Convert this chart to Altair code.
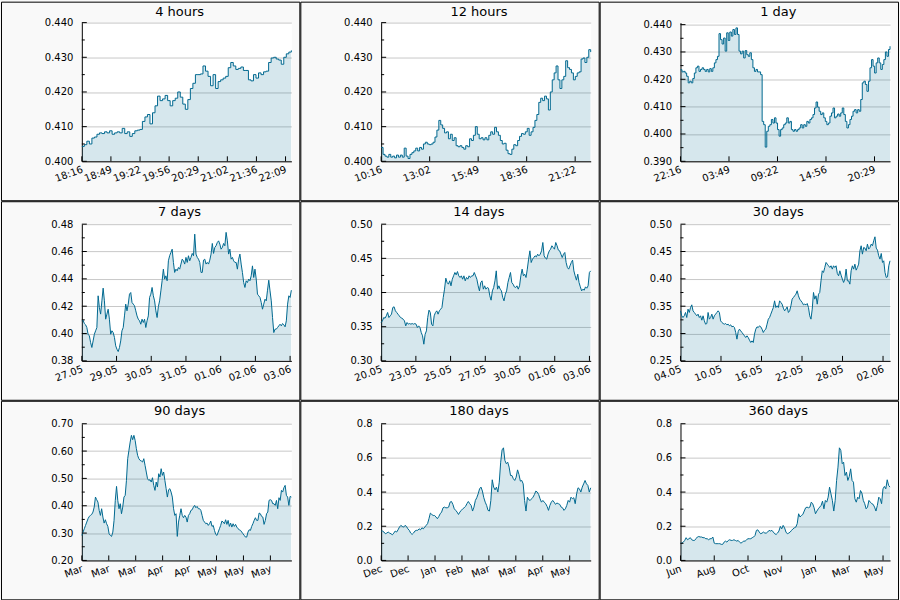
import altair as alt
import pandas as pd

# ---------------------------------------------------------------------------
# Price history, one series per look-back window (all windows end at END)
# ---------------------------------------------------------------------------
END = "2021-06-03 22:16"

TITLES = ["4 hours", "12 hours", "1 day", "7 days", "14 days", "30 days",
          "90 days", "180 days", "360 days"]

STARTS = ["2021-06-03 18:16", "2021-06-03 10:16", "2021-06-02 22:16",
          "2021-05-27 22:16", "2021-05-20 22:16", "2021-05-04 22:16",
          "2021-03-05 22:16", "2020-12-05 22:16", "2020-06-08 22:16"]

s_4h = [0.4043, 0.4048, 0.4058, 0.4050, 0.4067, 0.4070, 0.4078, 0.4082, 0.4080, 0.4085,
        0.4082, 0.4088, 0.4078, 0.4082, 0.4085, 0.4082, 0.4095, 0.4080, 0.4085, 0.4072,
        0.4080, 0.4088, 0.4090, 0.4092, 0.4115, 0.4128, 0.4135, 0.4108, 0.4140, 0.4160,
        0.4188, 0.4175, 0.4180, 0.4190, 0.4175, 0.4160, 0.4175, 0.4182, 0.4200, 0.4185,
        0.4165, 0.4150, 0.4178, 0.4210, 0.4225, 0.4250, 0.4250, 0.4252, 0.4275, 0.4260,
        0.4245, 0.4218, 0.4250, 0.4210, 0.4230, 0.4235, 0.4240, 0.4245, 0.4270, 0.4285,
        0.4275, 0.4265, 0.4268, 0.4272, 0.4262, 0.4262, 0.4235, 0.4232, 0.4250, 0.4240,
        0.4255, 0.4250, 0.4258, 0.4260, 0.4285, 0.4298, 0.4300, 0.4295, 0.4292, 0.4280,
        0.4300, 0.4310, 0.4315, 0.4320]

s_12h = [0.4040, 0.4020, 0.4015, 0.4012, 0.4020, 0.4012, 0.4015, 0.4010, 0.4018, 0.4012,
         0.4018, 0.4012, 0.4038, 0.4015, 0.4008, 0.4020, 0.4025, 0.4030, 0.4038, 0.4030,
         0.4040, 0.4035, 0.4050, 0.4055, 0.4050, 0.4048, 0.4050, 0.4055, 0.4070, 0.4090,
         0.4118, 0.4105, 0.4095, 0.4082, 0.4085, 0.4065, 0.4078, 0.4060, 0.4068, 0.4045,
         0.4042, 0.4045, 0.4040, 0.4035, 0.4045, 0.4042, 0.4065, 0.4060, 0.4075, 0.4100,
         0.4078, 0.4065, 0.4068, 0.4062, 0.4068, 0.4062, 0.4075, 0.4085, 0.4078, 0.4098,
         0.4085, 0.4075, 0.4060, 0.4050, 0.4052, 0.4032, 0.4022, 0.4020, 0.4035, 0.4048,
         0.4045, 0.4060, 0.4072, 0.4080, 0.4078, 0.4085, 0.4095, 0.4075, 0.4085, 0.4098,
         0.4118, 0.4135, 0.4170, 0.4182, 0.4175, 0.4188, 0.4180, 0.4148, 0.4200, 0.4235,
         0.4255, 0.4275, 0.4235, 0.4210, 0.4235, 0.4245, 0.4290, 0.4270, 0.4265, 0.4255,
         0.4235, 0.4245, 0.4255, 0.4258, 0.4295, 0.4298, 0.4285, 0.4300, 0.4322, 0.4315]

s_1d = [0.4235, 0.4227, 0.4229, 0.4223, 0.4211, 0.4187, 0.4193, 0.4187, 0.4203, 0.4223,
        0.4242, 0.4248, 0.4229, 0.4236, 0.4242, 0.4236, 0.4229, 0.4236, 0.4227, 0.4239,
        0.4229, 0.4242, 0.4260, 0.4272, 0.4284, 0.4367, 0.4345, 0.4329, 0.4351, 0.4303,
        0.4370, 0.4342, 0.4373, 0.4358, 0.4382, 0.4364, 0.4388, 0.4364, 0.4303, 0.4293,
        0.4303, 0.4278, 0.4305, 0.4290, 0.4284, 0.4297, 0.4272, 0.4242, 0.4229, 0.4236,
        0.4227, 0.4227, 0.4217, 0.4046, 0.4034, 0.3952, 0.4010, 0.4028, 0.4034, 0.4053,
        0.4040, 0.4059, 0.4040, 0.4016, 0.3992, 0.4016, 0.4022, 0.4034, 0.4040, 0.4059,
        0.4040, 0.4046, 0.4016, 0.4010, 0.4016, 0.4010, 0.4016, 0.4022, 0.4034, 0.4022,
        0.4034, 0.4028, 0.4046, 0.4040, 0.4053, 0.4059, 0.4071, 0.4095, 0.4117, 0.4098,
        0.4083, 0.4071, 0.4077, 0.4059, 0.4046, 0.4034, 0.4040, 0.4065, 0.4077, 0.4095,
        0.4059, 0.4065, 0.4073, 0.4065, 0.4077, 0.4095, 0.4071, 0.4046, 0.4022, 0.4034,
        0.4053, 0.4065, 0.4083, 0.4089, 0.4077, 0.4089, 0.4083, 0.4126, 0.4187, 0.4193,
        0.4181, 0.4156, 0.4193, 0.4242, 0.4272, 0.4248, 0.4223, 0.4260, 0.4278, 0.4260,
        0.4236, 0.4254, 0.4272, 0.4300, 0.4284, 0.4309, 0.4321]

s_7d = [0.4093, 0.4098, 0.4073, 0.4064, 0.4044, 0.3995, 0.3983, 0.3934, 0.3898, 0.3946,
        0.3995, 0.4020, 0.4044, 0.4276, 0.4190, 0.4142, 0.4239, 0.4332, 0.4239, 0.4105,
        0.4142, 0.4178, 0.4105, 0.3995, 0.4020, 0.4007, 0.3971, 0.3910, 0.3885, 0.3868,
        0.3898, 0.3946, 0.4020, 0.4044, 0.4129, 0.4215, 0.4166, 0.4215, 0.4288, 0.4300,
        0.4227, 0.4215, 0.4203, 0.4166, 0.4129, 0.4105, 0.4093, 0.4068, 0.4105, 0.4081,
        0.4105, 0.4044, 0.4093, 0.4129, 0.4264, 0.4288, 0.4337, 0.4276, 0.4239, 0.4166,
        0.4117, 0.4196, 0.4239, 0.4312, 0.4386, 0.4471, 0.4398, 0.4422, 0.4386, 0.4532,
        0.4569, 0.4593, 0.4617, 0.4520, 0.4447, 0.4471, 0.4459, 0.4483, 0.4471, 0.4508,
        0.4544, 0.4532, 0.4508, 0.4557, 0.4520, 0.4569, 0.4532, 0.4557, 0.4586, 0.4569,
        0.4727, 0.4581, 0.4557, 0.4544, 0.4520, 0.4447, 0.4447, 0.4537, 0.4544, 0.4508,
        0.4520, 0.4508, 0.4537, 0.4581, 0.4659, 0.4586, 0.4630, 0.4642, 0.4666, 0.4678,
        0.4654, 0.4617, 0.4630, 0.4659, 0.4642, 0.4740, 0.4678, 0.4581, 0.4617, 0.4544,
        0.4557, 0.4532, 0.4520, 0.4520, 0.4471, 0.4544, 0.4581, 0.4508, 0.4447, 0.4373,
        0.4337, 0.4386, 0.4373, 0.4398, 0.4386, 0.4422, 0.4495, 0.4410, 0.4471, 0.4398,
        0.4288, 0.4276, 0.4264, 0.4227, 0.4178, 0.4215, 0.4251, 0.4239, 0.4317, 0.4390,
        0.4312, 0.4239, 0.4117, 0.4007, 0.4032, 0.4032, 0.4044, 0.4056, 0.4068, 0.4056,
        0.4073, 0.4064, 0.4049, 0.4093, 0.4215, 0.4276, 0.4264, 0.4317]

s_14d = [0.3561, 0.3586, 0.3634, 0.3624, 0.3659, 0.3708, 0.3634, 0.3659, 0.3683, 0.3781,
         0.3791, 0.3732, 0.3708, 0.3683, 0.3659, 0.3634, 0.3624, 0.3610, 0.3586, 0.3512,
         0.3561, 0.3537, 0.3546, 0.3537, 0.3546, 0.3537, 0.3546, 0.3537, 0.3488, 0.3512,
         0.3488, 0.3415, 0.3366, 0.3244, 0.3390, 0.3439, 0.3634, 0.3742, 0.3708, 0.3537,
         0.3512, 0.3659, 0.3708, 0.3732, 0.3683, 0.3732, 0.3756, 0.3781, 0.3927, 0.4049,
         0.4210, 0.4146, 0.4122, 0.4171, 0.4098, 0.4195, 0.4244, 0.4293, 0.4259, 0.4307,
         0.4244, 0.4220, 0.4244, 0.4195, 0.4244, 0.4171, 0.4220, 0.4195, 0.4244, 0.4220,
         0.4244, 0.4244, 0.4293, 0.4244, 0.4195, 0.4098, 0.4024, 0.4146, 0.4171, 0.4049,
         0.4098, 0.4049, 0.4073, 0.4063, 0.3952, 0.3888, 0.4024, 0.4073, 0.4171, 0.4317,
         0.4049, 0.4098, 0.4049, 0.4024, 0.3927, 0.3878, 0.3976, 0.4024, 0.4146, 0.4220,
         0.4293, 0.4146, 0.4122, 0.4083, 0.4073, 0.4098, 0.4049, 0.4098, 0.4244, 0.4342,
         0.4244, 0.4268, 0.4220, 0.4342, 0.4488, 0.4610, 0.4439, 0.4488, 0.4512, 0.4537,
         0.4522, 0.4561, 0.4537, 0.4561, 0.4610, 0.4732, 0.4537, 0.4503, 0.4488, 0.4561,
         0.4610, 0.4634, 0.4684, 0.4659, 0.4634, 0.4732, 0.4684, 0.4620, 0.4610, 0.4561,
         0.4512, 0.4561, 0.4586, 0.4439, 0.4366, 0.4342, 0.4390, 0.4439, 0.4474, 0.4317,
         0.4244, 0.4181, 0.4268, 0.4146, 0.4083, 0.4024, 0.4049, 0.4034, 0.4083, 0.4063,
         0.4098, 0.4293, 0.4317]

s_30d = [0.3415, 0.3324, 0.3293, 0.3324, 0.3385, 0.3293, 0.3446, 0.3385, 0.3476, 0.3525,
         0.3415, 0.3385, 0.3354, 0.3324, 0.3354, 0.3293, 0.3324, 0.3244, 0.3324, 0.3232,
         0.3171, 0.3183, 0.3385, 0.3263, 0.3293, 0.3354, 0.3263, 0.3324, 0.3354, 0.3385,
         0.3415, 0.3385, 0.3232, 0.3202, 0.3183, 0.3171, 0.3183, 0.3159, 0.3171, 0.3141,
         0.3159, 0.3122, 0.3134, 0.3110, 0.3019, 0.2897, 0.3037, 0.3080, 0.3049, 0.3019,
         0.2988, 0.2958, 0.2927, 0.2958, 0.2927, 0.2878, 0.2836, 0.2866, 0.2836, 0.2988,
         0.3080, 0.3122, 0.3110, 0.3141, 0.3122, 0.3080, 0.3019, 0.3061, 0.3080, 0.3171,
         0.3263, 0.3293, 0.3354, 0.3415, 0.3476, 0.3598, 0.3476, 0.3507, 0.3476, 0.3598,
         0.3568, 0.3537, 0.3464, 0.3415, 0.3446, 0.3488, 0.3385, 0.3415, 0.3507, 0.3629,
         0.3659, 0.3690, 0.3720, 0.3781, 0.3690, 0.3629, 0.3598, 0.3568, 0.3525, 0.3537,
         0.3525, 0.3549, 0.3476, 0.3324, 0.3263, 0.3446, 0.3751, 0.3629, 0.3690, 0.3537,
         0.3720, 0.3751, 0.3964, 0.4147, 0.4117, 0.4208, 0.4300, 0.4269, 0.4239, 0.4208,
         0.4239, 0.4178, 0.4239, 0.4208, 0.4239, 0.4098, 0.4056, 0.4147, 0.4068, 0.3995,
         0.3934, 0.3995, 0.4178, 0.3964, 0.3964, 0.3903, 0.4147, 0.4239, 0.4178, 0.4269,
         0.4159, 0.4208, 0.4269, 0.4513, 0.4605, 0.4452, 0.4574, 0.4562, 0.4513, 0.4635,
         0.4544, 0.4574, 0.4635, 0.4605, 0.4696, 0.4769, 0.4562, 0.4525, 0.4422, 0.4361,
         0.4464, 0.4300, 0.4330, 0.4117, 0.4025, 0.4037, 0.4239, 0.4330]

s_90d = [0.2915, 0.3037, 0.3159, 0.3281, 0.3403, 0.3525, 0.3610, 0.3647, 0.3684, 0.3769,
         0.3952, 0.4318, 0.4220, 0.4135, 0.3830, 0.3647, 0.3891, 0.3586, 0.3366, 0.3488,
         0.3342, 0.3244, 0.2976, 0.2915, 0.2878, 0.3037, 0.3464, 0.4196, 0.4708, 0.4196,
         0.3891, 0.4074, 0.3708, 0.3952, 0.4318, 0.4379, 0.4928, 0.5721, 0.6026, 0.6331,
         0.6575, 0.6416, 0.6575, 0.6392, 0.6087, 0.5843, 0.5721, 0.5660, 0.5636, 0.5599,
         0.5721, 0.5477, 0.5233, 0.4989, 0.4928, 0.4952, 0.4867, 0.5025, 0.4745, 0.4562,
         0.4867, 0.4684, 0.5172, 0.5050, 0.5355, 0.5111, 0.5233, 0.4928, 0.4623, 0.4318,
         0.4586, 0.4623, 0.4501, 0.4318, 0.3891, 0.3647, 0.3708, 0.2878, 0.3403, 0.3647,
         0.3891, 0.3647, 0.3562, 0.3647, 0.3586, 0.3403, 0.3647, 0.3708, 0.3830, 0.3854,
         0.3952, 0.4013, 0.3928, 0.3976, 0.3891, 0.3891, 0.3830, 0.3647, 0.3464, 0.3403,
         0.3342, 0.3366, 0.3281, 0.3342, 0.3440, 0.3244, 0.3281, 0.3098, 0.2952, 0.2915,
         0.3037, 0.3159, 0.3281, 0.3440, 0.3403, 0.3342, 0.3488, 0.3318, 0.3464, 0.3244,
         0.3366, 0.3220, 0.3342, 0.3244, 0.3318, 0.3220, 0.3159, 0.3122, 0.3098, 0.3037,
         0.2976, 0.2915, 0.2854, 0.2854, 0.3037, 0.3122, 0.3098, 0.3244, 0.3342, 0.3464,
         0.3562, 0.3464, 0.3464, 0.3733, 0.3708, 0.3610, 0.3586, 0.3318, 0.3464, 0.3708,
         0.3769, 0.4196, 0.4220, 0.4196, 0.4074, 0.4074, 0.4013, 0.4196, 0.3891, 0.4294,
         0.4196, 0.4562, 0.4501, 0.4660, 0.4745, 0.4379, 0.4318, 0.4013, 0.4342, 0.4318]

s_180d = [0.172, 0.172, 0.166, 0.156, 0.160, 0.166, 0.160, 0.156, 0.150, 0.160,
          0.172, 0.166, 0.179, 0.195, 0.205, 0.199, 0.195, 0.205, 0.199, 0.185,
          0.176, 0.160, 0.152, 0.160, 0.172, 0.176, 0.176, 0.185, 0.179, 0.191,
          0.185, 0.195, 0.205, 0.215, 0.244, 0.277, 0.269, 0.263, 0.263, 0.254,
          0.244, 0.257, 0.273, 0.283, 0.308, 0.312, 0.308, 0.308, 0.312, 0.341,
          0.345, 0.328, 0.302, 0.293, 0.283, 0.269, 0.283, 0.293, 0.302, 0.308,
          0.316, 0.332, 0.345, 0.332, 0.322, 0.289, 0.312, 0.351, 0.367, 0.390,
          0.419, 0.429, 0.406, 0.367, 0.341, 0.322, 0.293, 0.289, 0.351, 0.472,
          0.429, 0.413, 0.429, 0.400, 0.458, 0.575, 0.647, 0.659, 0.585, 0.566,
          0.575, 0.546, 0.497, 0.497, 0.478, 0.468, 0.487, 0.530, 0.503, 0.464,
          0.468, 0.448, 0.351, 0.289, 0.370, 0.355, 0.351, 0.361, 0.370, 0.386,
          0.406, 0.400, 0.386, 0.361, 0.341, 0.351, 0.341, 0.332, 0.316, 0.293,
          0.322, 0.341, 0.351, 0.341, 0.328, 0.336, 0.332, 0.328, 0.312, 0.308,
          0.293, 0.302, 0.322, 0.351, 0.341, 0.370, 0.361, 0.367, 0.332, 0.390,
          0.425, 0.419, 0.400, 0.429, 0.448, 0.468, 0.448, 0.439, 0.400, 0.425]

s_360d = [0.101, 0.101, 0.107, 0.117, 0.133, 0.121, 0.127, 0.133, 0.121, 0.117,
          0.117, 0.127, 0.137, 0.140, 0.137, 0.137, 0.133, 0.133, 0.127, 0.127,
          0.121, 0.127, 0.127, 0.137, 0.101, 0.098, 0.098, 0.098, 0.098, 0.094,
          0.094, 0.107, 0.113, 0.107, 0.117, 0.121, 0.117, 0.117, 0.121, 0.117,
          0.113, 0.117, 0.107, 0.101, 0.107, 0.113, 0.113, 0.121, 0.127, 0.127,
          0.127, 0.133, 0.137, 0.146, 0.176, 0.179, 0.166, 0.156, 0.160, 0.166,
          0.160, 0.160, 0.166, 0.176, 0.172, 0.176, 0.166, 0.156, 0.152, 0.160,
          0.172, 0.199, 0.185, 0.205, 0.191, 0.166, 0.156, 0.160, 0.166, 0.176,
          0.185, 0.191, 0.195, 0.215, 0.273, 0.254, 0.263, 0.269, 0.289, 0.308,
          0.312, 0.308, 0.312, 0.341, 0.332, 0.308, 0.273, 0.289, 0.302, 0.312,
          0.322, 0.347, 0.302, 0.351, 0.341, 0.370, 0.429, 0.390, 0.351, 0.289,
          0.351, 0.468, 0.546, 0.659, 0.644, 0.566, 0.575, 0.497, 0.517, 0.468,
          0.491, 0.536, 0.468, 0.458, 0.361, 0.341, 0.370, 0.361, 0.409, 0.394,
          0.351, 0.332, 0.302, 0.312, 0.351, 0.341, 0.332, 0.328, 0.312, 0.289,
          0.322, 0.370, 0.361, 0.332, 0.419, 0.433, 0.419, 0.472, 0.439, 0.429]

SERIES = [s_4h, s_12h, s_1d, s_7d, s_14d, s_30d, s_90d, s_180d, s_360d]

# value axis: range, major step and label format of each window
Y_DOMAINS = [(0.400, 0.440), (0.400, 0.440), (0.390, 0.440), (0.38, 0.48),
             (0.30, 0.50), (0.25, 0.50), (0.20, 0.70), (0.0, 0.8), (0.0, 0.8)]
Y_STEPS = [0.01, 0.01, 0.01, 0.02, 0.05, 0.05, 0.1, 0.2, 0.2]
Y_FORMATS = [".3f", ".3f", ".3f", ".2f", ".2f", ".2f", ".2f", ".1f", ".1f"]

# time axis: spacing of ticks (minutes) and their labels
TICK_STEP_MIN = [2000 / 60, 10000 / 60, 20000 / 60, 1670, 3340, 8352, 16661, 33322, 83520]
TICK_LABELS = [
    ["18:16", "18:49", "19:22", "19:56", "20:29", "21:02", "21:36", "22:09"],
    ["10:16", "13:02", "15:49", "18:36", "21:22"],
    ["22:16", "03:49", "09:22", "14:56", "20:29"],
    ["27.05", "29.05", "30.05", "31.05", "01.06", "02.06", "03.06"],
    ["20.05", "23.05", "25.05", "27.05", "30.05", "01.06", "03.06"],
    ["04.05", "10.05", "16.05", "22.05", "28.05", "02.06"],
    ["Mar", "Mar", "Mar", "Apr", "Apr", "May", "May", "May"],
    ["Dec", "Dec", "Jan", "Feb", "Mar", "Mar", "Apr", "May"],
    ["Jun", "Aug", "Oct", "Nov", "Jan", "Mar", "May"],
]

# ---------------------------------------------------------------------------
# Styling and panel geometry
# ---------------------------------------------------------------------------
FONT = "DejaVu Sans"
LINE = "#006890"
BG = "#f9f9f9"
GRID = "#c8c8c8"
W = 210                      # plot width of every panel
CELL_W, CELL_H = 300, 200    # framed cell around each panel
LEFT = 81                    # plot left edge inside the cell
ISO = "%Y-%m-%dT%H:%M:%S"

# plot top inside its cell, plot height, and extra headroom above the top tick
PLOT_TOP = [21, 21, 21, 23, 23, 23, 23, 23, 23]
PLOT_H = [139, 139, 139, 137, 137, 137, 137, 137, 137]
HEADROOM = [0, 0, 2, 0, 0, 0, 0, 0, 0]


def dt(s):
    ts = pd.Timestamp(s)
    return alt.DateTime(year=ts.year, month=ts.month, date=ts.day,
                        hours=ts.hour, minutes=ts.minute, seconds=ts.second)


def panel(i):
    h = PLOT_H[i]
    top = PLOT_TOP[i]

    vals = SERIES[i]
    times = pd.date_range(STARTS[i], END, periods=len(vals))
    series = pd.DataFrame({"t": times.strftime(ISO), "v": vals})

    lo, hi = Y_DOMAINS[i]
    step = Y_STEPS[i]
    n = int(round((hi - lo) / step))
    major = [round(lo + k * step, 4) for k in range(n + 1)]
    minor = [round(lo + (k + 0.5) * step, 4) for k in range(n)]
    hi_scale = hi + (hi - lo) * HEADROOM[i] / (h - HEADROOM[i])

    t0 = pd.Timestamp(STARTS[i])
    tick_times = [(t0 + pd.Timedelta(minutes=TICK_STEP_MIN[i] * k)).strftime(ISO)
                  for k in range(len(TICK_LABELS[i]))]
    ticks = pd.DataFrame({"t": tick_times, "label": TICK_LABELS[i]})

    xs = alt.Scale(domain=[dt(STARTS[i]), dt(END)], nice=False)
    ys = alt.Scale(domain=[lo, hi_scale], nice=False, zero=False)

    # identical axis specs on every layer, so the merged axes keep them
    x_axis = alt.Axis(title=None, labels=False, ticks=False, grid=False,
                      domainColor="black", domainWidth=1)
    y_axis = alt.Axis(title=None, values=major, format=Y_FORMATS[i], grid=True,
                      gridColor=GRID, gridWidth=1, ticks=False, tickSize=0,
                      labelPadding=9, domainColor="black", domainWidth=1,
                      labelFont=FONT, labelFontSize=10, labelColor="black")

    def X(field):
        return alt.X(field, scale=xs, axis=x_axis)

    def Y(field):
        return alt.Y(field, scale=ys, axis=y_axis)

    interp = "step-after" if i < 3 else "linear"

    frame = alt.Chart(pd.DataFrame({"k": [0]})).mark_rect(
        filled=False, stroke="black", strokeWidth=1
    ).encode(x=alt.value(0.5 - LEFT), x2=alt.value(CELL_W - 0.5 - LEFT),
             y=alt.value(0.5 - top), y2=alt.value(CELL_H - 0.5 - top))

    area = alt.Chart(series).mark_area(
        color=LINE, fillOpacity=0.16, interpolate=interp, clip=True
    ).encode(x=X("t:T"), y=Y("v:Q"), y2=alt.datum(lo))

    line = alt.Chart(series).mark_line(
        color=LINE, strokeWidth=1, interpolate=interp
    ).encode(x=X("t:T"), y=Y("v:Q"))

    y_major = alt.Chart(pd.DataFrame({"y": major})).mark_rule(
        color="black", strokeWidth=1
    ).encode(y=Y("y:Q"), x=alt.value(0), x2=alt.value(5))

    y_minor = alt.Chart(pd.DataFrame({"y": minor})).mark_rule(
        color="black", strokeWidth=1
    ).encode(y=Y("y:Q"), x=alt.value(0), x2=alt.value(3))

    x_ticks = alt.Chart(ticks).mark_rule(color="black", strokeWidth=1).encode(
        x=X("t:T"), y=alt.value(h), y2=alt.value(h - 5))

    x_labels = alt.Chart(ticks).mark_text(
        angle=340, align="right", baseline="top", font=FONT, fontSize=10,
        color="black", dx=-1
    ).encode(x=X("t:T"), y=alt.value(h + 3), text="label:N")

    title = alt.Chart(pd.DataFrame({"title": [TITLES[i]]})).mark_text(
        align="center", baseline="alphabetic", font=FONT, fontSize=13,
        fontWeight="normal", color="black"
    ).encode(x=alt.value(179 - LEFT), y=alt.value(14.5 - top), text="title:N")

    return alt.layer(frame, area, line, y_major, y_minor, x_ticks, x_labels,
                     title).properties(width=W, height=h)


chart = alt.concat(
    *[panel(i) for i in range(9)],
    columns=3,
    spacing={"row": 63, "column": 90},
    bounds="flush",
).properties(
    background=BG,
    padding=0,
).configure_view(
    fill="white", stroke="transparent"
)

chart.save("out.html", embed_options={"renderer": "svg", "actions": False})
